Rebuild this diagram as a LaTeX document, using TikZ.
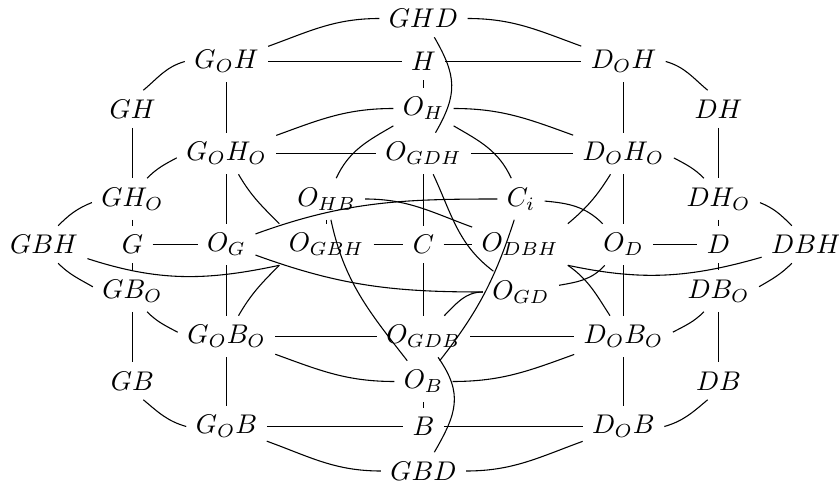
\documentclass[tikz,border=0pt]{standalone}
\begin{document}
\begin{tikzpicture}[x=0.37pt,y=0.37pt,
  nd/.style={inner sep=3.33pt},
  ed/.style={line width=0.4pt}]
\useasboundingbox (0,0) rectangle (839,-483);
% nodes
\node[nd] (GHD) at (423.5,-18.5) {$GHD$};
\node[nd] (GoH) at (226.5,-61.5) {$G_OH$};
\node[nd] (H) at (423.5,-61.5) {$H$};
\node[nd] (DoH) at (623.5,-61.5) {$D_OH$};
\node[nd] (GH) at (132.5,-109) {$GH$};
\node[nd] (OH) at (423.5,-108.5) {$O_H$};
\node[nd] (DH) at (718.5,-109) {$DH$};
\node[nd] (GoHo) at (226.5,-153.5) {$G_OH_O$};
\node[nd] (OGDH) at (423.5,-153.5) {$O_{GDH}$};
\node[nd] (DoHo) at (623.5,-153.5) {$D_OH_O$};
\node[nd] (GHo) at (132.5,-199) {$GH_O$};
\node[nd] (OHB) at (326.5,-199) {$O_{HB}$};
\node[nd] (Ci) at (521,-199) {$C_i$};
\node[nd] (DHo) at (718.5,-199) {$DH_O$};
\node[nd] (GBH) at (44,-244.5) {$GBH$};
\node[nd] (G) at (132.5,-244.5) {$G$};
\node[nd] (OG) at (226.5,-244.5) {$O_G$};
\node[nd] (OGBH) at (326.5,-244.5) {$O_{GBH}$};
\node[nd] (C) at (423.5,-244.5) {$C$};
\node[nd] (ODBH) at (520,-244.5) {$O_{DBH}$};
\node[nd] (OD) at (623.5,-244.5) {$O_D$};
\node[nd] (D) at (718.5,-244.5) {$D$};
\node[nd] (DBH) at (806,-244.5) {$DBH$};
\node[nd] (GBo) at (132.5,-291) {$GB_O$};
\node[nd] (OGD) at (521,-292) {$O_{GD}$};
\node[nd] (DBo) at (718.5,-291) {$DB_O$};
\node[nd] (GoBo) at (226.5,-336.5) {$G_OB_O$};
\node[nd] (OGDB) at (423.5,-336.5) {$O_{GDB}$};
\node[nd] (DoBo) at (623.5,-336.5) {$D_OB_O$};
\node[nd] (GB) at (132.5,-381) {$GB$};
\node[nd] (OB) at (423.5,-381.5) {$O_B$};
\node[nd] (DB) at (718.5,-381) {$DB$};
\node[nd] (GoB) at (226.5,-426.5) {$G_OB$};
\node[nd] (B) at (423.5,-426.5) {$B$};
\node[nd] (DoB) at (623.5,-426.5) {$D_OB$};
\node[nd] (GBD) at (423.5,-471) {$GBD$};
% straight edges
\draw[ed] (GoH) -- (H);
\draw[ed] (H) -- (DoH);
\draw[ed] (GoH) -- (GoHo);
\draw[ed] (DoH) -- (DoHo);
\draw[ed] (H) -- (OH);
\draw[ed] (GoHo) -- (OGDH);
\draw[ed] (OGDH) -- (DoHo);
\draw[ed] (GH) -- (GHo);
\draw[ed] (DH) -- (DHo);
\draw[ed] (GoHo) -- (OG);
\draw[ed] (DoHo) -- (OD);
\draw[ed] (OGDH) -- (C);
\draw[ed] (GHo) -- (G);
\draw[ed] (DHo) -- (D);
\draw[ed] (G) -- (OG);
\draw[ed] (OD) -- (D);
\draw[ed] (OGBH) -- (C);
\draw[ed] (C) -- (ODBH);
\draw[ed] (OHB) -- (OGBH);
\draw[ed] (G) -- (GBo);
\draw[ed] (D) -- (DBo);
\draw[ed] (C) -- (OGDB);
\draw[ed] (GBo) -- (GB);
\draw[ed] (DBo) -- (DB);
\draw[ed] (OG) -- (GoBo);
\draw[ed] (OD) -- (DoBo);
\draw[ed] (GoBo) -- (OGDB);
\draw[ed] (OGDB) -- (DoBo);
\draw[ed] (GoBo) -- (GoB);
\draw[ed] (DoBo) -- (DoB);
\draw[ed] (OB) -- (B);
\draw[ed] (GoB) -- (B);
\draw[ed] (B) -- (DoB);
% short outer arcs
\draw[ed] (GH.60) to[out=40,in=196] (GoH.west);
\draw[ed] (DoH.east) to[out=-16,in=140] (DH.120);
\draw[ed] (GHo.55) to[out=45,in=208] (GoHo.185);
\draw[ed] (DoHo.-5) to[out=-28,in=135] (DHo.125);
\draw[ed] (GHo.185) to[out=202,in=45] (GBH.53);
\draw[ed] (DHo.-5) to[out=-22,in=135] (DBH.127);
\draw[ed] (GBH.-53) to[out=-45,in=150] (GBo.174);
\draw[ed] (DBo.6) to[out=30,in=225] (DBH.233);
\draw[ed] (GBo.-55) to[out=-45,in=152] (GoBo.175);
\draw[ed] (DoBo.5) to[out=28,in=225] (DBo.235);
\draw[ed] (GB.-60) to[out=-40,in=164] (GoB.west);
\draw[ed] (DoB.east) to[out=16,in=220] (DB.240);
% long arcs, top
\draw[ed] (GoH) to[out=20,in=180] (GHD);
\draw[ed] (GHD) to[out=0,in=160] (DoH);
\draw[ed] (GHD) to[out=-60,in=60,looseness=1.2] (OGDH);
\draw[ed] (GoHo) to[out=20,in=180] (OH);
\draw[ed] (OH) to[out=0,in=160] (DoHo);
\draw[ed] (OH) to[out=210,in=65] (OHB);
\draw[ed] (OH) to[out=-30,in=115] (Ci);
\draw[ed] (GoHo) to[out=-60,in=135] (OGBH.north west);
\draw[ed] (DoHo) to[out=238,in=40] (ODBH.north east);
\draw[ed] (OGDH) to[out=-65,in=143] (OGD);
% middle
\draw[ed] (GBH) to[out=-18,in=192] (OGBH.south west);
\draw[ed] (ODBH.south east) to[out=-12,in=196] (DBH);
\draw[ed] (OG) to[out=20,in=180] (Ci);
\draw[ed] (OG) to[out=-20,in=180] (OGD);
\draw[ed] (OHB) to[out=0,in=160] (ODBH);
\draw[ed] (OHB) to[out=-78,in=128] (OB);
\draw[ed] (Ci) to[out=-108,in=52] (OB);
\draw[ed] (Ci) to[out=-5,in=135] (OD);
\draw[ed] (OD) to[out=228,in=10] (OGD);
\draw[ed] (OGDB) to[out=45,in=180] (OGD.west);
\draw[ed] (GoBo) to[out=60,in=225] (OGBH.south west);
\draw[ed] (ODBH.south east) to[out=-35,in=123] (DoBo);
% long arcs, bottom
\draw[ed] (GoBo) to[out=-20,in=180] (OB);
\draw[ed] (OB) to[out=0,in=200] (DoBo);
\draw[ed] (OGDB) to[out=-55,in=60,looseness=1.2] (GBD);
\draw[ed] (GoB) to[out=-20,in=180] (GBD);
\draw[ed] (GBD) to[out=0,in=200] (DoB);
\end{tikzpicture}
\end{document}
